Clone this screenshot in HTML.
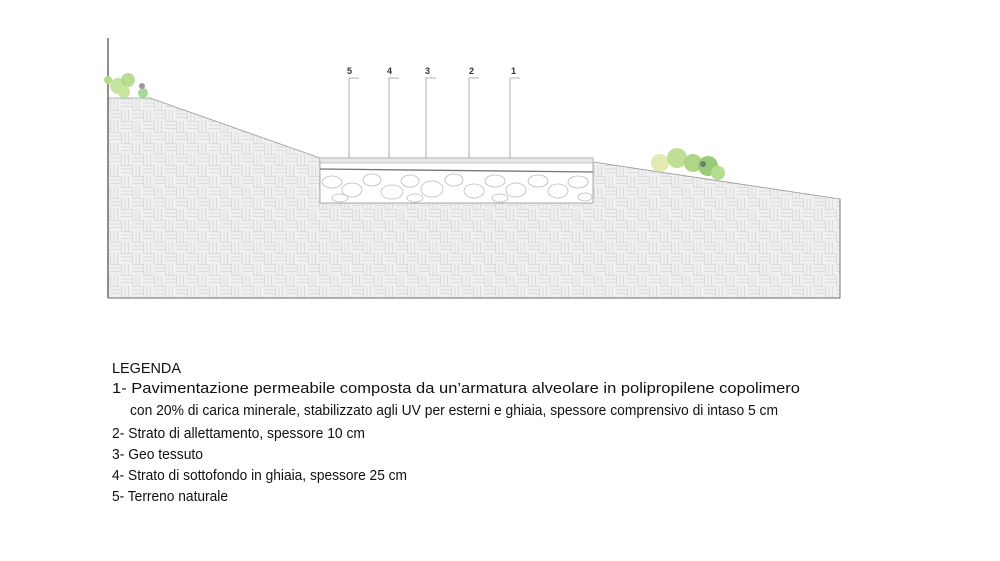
<!DOCTYPE html>
<html><head><meta charset="utf-8"><style>
html,body{margin:0;padding:0;background:#fff;width:1000px;height:561px;overflow:hidden}
svg{display:block}
</style></head><body>
<svg width="1000" height="561" viewBox="0 0 1000 561" xmlns="http://www.w3.org/2000/svg">
<defs>
<pattern id="bw" width="22" height="22" patternUnits="userSpaceOnUse">
<rect width="22" height="22" fill="#f0f0f0"/>
<g stroke="#d6d6d6" stroke-width="0.8" fill="none">
<path d="M0 0.5H11M0 4H11M0 7.5H11"/>
<path d="M11.5 0V11M15 0V11M18.5 0V11"/>
<path d="M0.5 11V22M4 11V22M7.5 11V22"/>
<path d="M11 11.5H22M11 15H22M11 18.5H22"/>
</g>
</pattern>
</defs>
<polygon points="108,98 150,98 320,158 320,203 593,203 593,162 840,199 840,298 108,298" fill="url(#bw)" stroke="#9a9a9a" stroke-width="0.8"/>
<line x1="108" y1="38" x2="108" y2="298" stroke="#555" stroke-width="1.3"/>
<line x1="108" y1="298" x2="840" y2="298" stroke="#888" stroke-width="1.2"/>
<line x1="840" y1="199" x2="840" y2="298" stroke="#888" stroke-width="1.2"/>
<rect x="320" y="158" width="273" height="45" fill="#fff" stroke="#999" stroke-width="0.8"/>
<rect x="320" y="158" width="273" height="5" fill="#e6e6e6" stroke="#aaa" stroke-width="0.6"/>
<line x1="320" y1="169" x2="593" y2="172" stroke="#777" stroke-width="1.3"/>
<g fill="none" stroke="#bbb" stroke-width="0.8">
<ellipse cx="332" cy="182" rx="10" ry="6"/><ellipse cx="352" cy="190" rx="10" ry="7"/><ellipse cx="372" cy="180" rx="9" ry="6"/><ellipse cx="392" cy="192" rx="11" ry="7"/><ellipse cx="410" cy="181" rx="9" ry="6"/><ellipse cx="432" cy="189" rx="11" ry="8"/><ellipse cx="454" cy="180" rx="9" ry="6"/><ellipse cx="474" cy="191" rx="10" ry="7"/><ellipse cx="495" cy="181" rx="10" ry="6"/><ellipse cx="516" cy="190" rx="10" ry="7"/><ellipse cx="538" cy="181" rx="10" ry="6"/><ellipse cx="558" cy="191" rx="10" ry="7"/><ellipse cx="578" cy="182" rx="10" ry="6"/>
<ellipse cx="340" cy="198" rx="8" ry="4"/><ellipse cx="415" cy="198" rx="8" ry="4"/><ellipse cx="500" cy="198" rx="8" ry="4"/><ellipse cx="585" cy="197" rx="7" ry="4"/>
</g>
<g stroke="#999" stroke-width="0.8" fill="none">
<path d="M349 158V78H359"/><path d="M389 158V78H399"/><path d="M426 158V78H436"/><path d="M469 158V78H479"/><path d="M510 158V78H520"/>
</g>
<g font-family="Liberation Sans, sans-serif" font-size="9" fill="#333" font-weight="bold">
<text x="347" y="74">5</text><text x="387" y="74">4</text><text x="425" y="74">3</text><text x="469" y="74">2</text><text x="511" y="74">1</text>
</g>
<g>
<circle cx="118" cy="86" r="8" fill="#b6dc8a" opacity="0.8"/><circle cx="128" cy="80" r="7" fill="#a8d47a" opacity="0.8"/><circle cx="124" cy="92" r="6" fill="#c7e6a0"/><circle cx="108" cy="80" r="4" fill="#b6dc8a"/><circle cx="143" cy="93" r="5" fill="#8fcf7a" opacity="0.8"/><circle cx="142" cy="86" r="3" fill="#999"/>
<circle cx="660" cy="163" r="9" fill="#dfe8a8" opacity="0.9"/><circle cx="677" cy="158" r="10" fill="#b9dc8a" opacity="0.9"/><circle cx="693" cy="163" r="9" fill="#a6d27a" opacity="0.9"/><circle cx="708" cy="166" r="10" fill="#8cc86a" opacity="0.9"/><circle cx="718" cy="173" r="7" fill="#b5dd8f"/><circle cx="703" cy="164" r="3" fill="#777"/>
</g>
<g font-family="Liberation Sans, sans-serif" font-size="15" fill="#111">
<text x="112" y="373" textLength="69" lengthAdjust="spacingAndGlyphs">LEGENDA</text>
<text x="112" y="393" textLength="688" lengthAdjust="spacingAndGlyphs">1- Pavimentazione permeabile composta da un’armatura alveolare in polipropilene copolimero</text>
<text x="130" y="415" textLength="648" lengthAdjust="spacingAndGlyphs">con 20% di carica minerale, stabilizzato agli UV per esterni e ghiaia, spessore comprensivo di intaso 5 cm</text>
<text x="112" y="438" textLength="253" lengthAdjust="spacingAndGlyphs">2- Strato di allettamento, spessore 10 cm</text>
<text x="112" y="459" textLength="91" lengthAdjust="spacingAndGlyphs">3- Geo tessuto</text>
<text x="112" y="480" textLength="295" lengthAdjust="spacingAndGlyphs">4- Strato di sottofondo in ghiaia, spessore 25 cm</text>
<text x="112" y="501" textLength="116" lengthAdjust="spacingAndGlyphs">5- Terreno naturale</text>
</g>
</svg>
</body></html>
